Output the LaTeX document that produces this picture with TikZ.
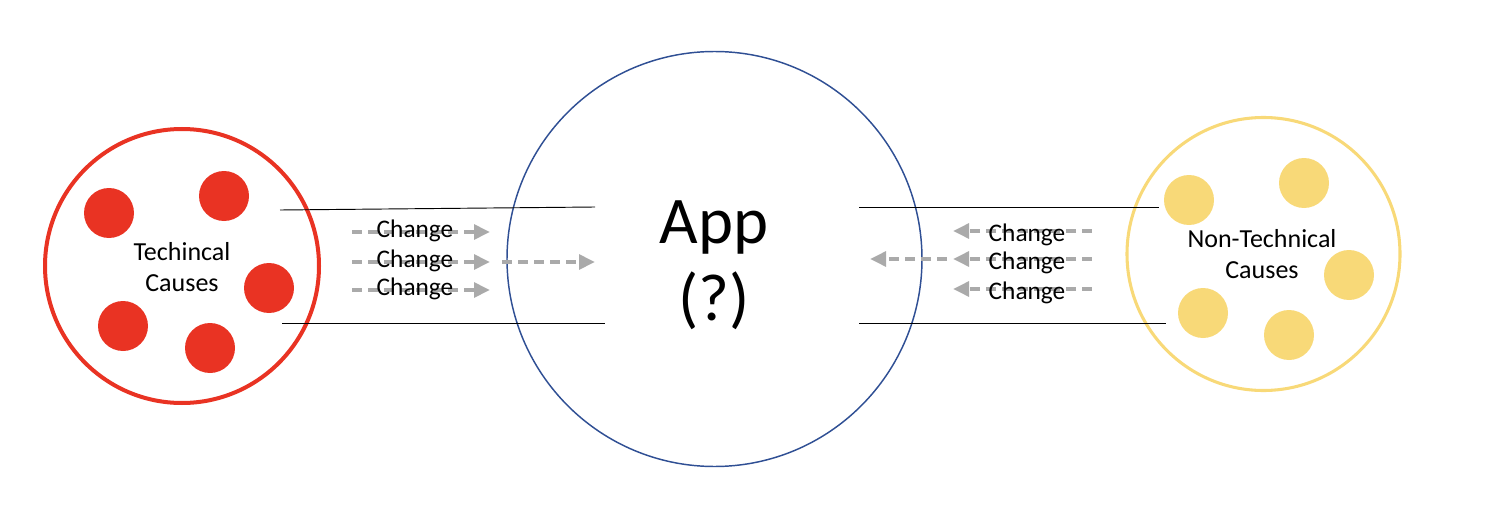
\documentclass[tikz,border=0pt]{standalone}
\usepackage{fontspec}
\setmainfont{Carlito}
\usetikzlibrary{arrows.meta}
\definecolor{cred}{HTML}{E93323}
\definecolor{cyel}{HTML}{F8D978}
\definecolor{cblue}{HTML}{2F4F94}
\definecolor{cgray}{HTML}{AAAAAA}
\begin{document}
\begin{tikzpicture}[x=0.75pt,y=-0.75pt,
  bigcirc/.style={circle,inner sep=0pt,minimum size={#1*1.5pt}},
  reddot/.style={circle,fill=cred,inner sep=0pt,minimum size=37.5pt},
  yeldot/.style={circle,fill=cyel,inner sep=0pt,minimum size=37.5pt},
  causetext/.style={font=\fontsize{19.5}{23}\selectfont,align=center,inner sep=0pt},
  chg/.style={font=\fontsize{19}{20}\selectfont,inner sep=0pt},
  flow/.style={draw=cgray,line width=2.7pt,dash pattern=on 7.5pt off 4.5pt,
    -{Triangle[length=12pt,width=11pt]}},
  bar/.style={draw=black,line width=0.7pt}]
\useasboundingbox (0,0) rectangle (1486,528);
% Technical causes
\node[bigcirc=137,draw=cred,line width=3pt] (tech) at (182,266) {};
\node[reddot] (t1) at (109,213) {};
\node[reddot] (t2) at (224,196) {};
\node[reddot] (t3) at (269,288) {};
\node[reddot] (t4) at (123,326) {};
\node[reddot] (t5) at (210,348) {};
\node[causetext] (techtxt) at (182,267) {Techincal\\Causes};
% App
\node[bigcirc=207.5,draw=cblue,line width=1.1pt] (app) at (714.5,259) {};
\node[font=\fontsize{50}{58}\selectfont,inner sep=0pt,align=center] (apptxt) at (714,265) {App\\(?)};
% Non-technical causes
\node[bigcirc=136.5,draw=cyel,line width=2.3pt] (nontech) at (1263.5,254) {};
\node[yeldot] (n1) at (1189,200) {};
\node[yeldot] (n2) at (1304,183) {};
\node[yeldot] (n3) at (1349,275) {};
\node[yeldot] (n4) at (1203,313) {};
\node[yeldot] (n5) at (1289,335) {};
\node[causetext] (nontxt) at (1262,254) {Non-Technical\\Causes};
% channel lines
\coordinate (lt1) at (280,210); \coordinate (lt2) at (595,207);
\coordinate (lb1) at (282,323); \coordinate (lb2) at (605,323);
\coordinate (rt1) at (859,207); \coordinate (rt2) at (1159,207);
\coordinate (rb1) at (859,323); \coordinate (rb2) at (1166,323);
\draw[bar] (lt1) -- (lt2);
\draw[bar] (lb1) -- (lb2);
\draw[bar] (rt1) -- (rt2);
\draw[bar] (rb1) -- (rb2);
% left arrows
\coordinate (la1s) at (352,232); \coordinate (la1e) at (490,232);
\coordinate (la2s) at (352,262); \coordinate (la2e) at (490,262);
\coordinate (la3s) at (352,290); \coordinate (la3e) at (490,290);
\coordinate (la4s) at (502,262); \coordinate (la4e) at (595,262);
\draw[flow] (la1s) -- (la1e);
\draw[flow] (la2s) -- (la2e);
\draw[flow] (la3s) -- (la3e);
\draw[flow] (la4s) -- (la4e);
\node[chg] (lc1) at (415,231) {Change};
\node[chg] (lc2) at (415,261) {Change};
\node[chg] (lc3) at (415,289) {Change};
% right arrows
\coordinate (ra1s) at (1092,231); \coordinate (ra1e) at (953,231);
\coordinate (ra2s) at (1092,259); \coordinate (ra2e) at (953,259);
\coordinate (ra3s) at (1092,289); \coordinate (ra3e) at (953,289);
\coordinate (ra4s) at (947,259); \coordinate (ra4e) at (870,259);
\draw[flow] (ra1s) -- (ra1e);
\draw[flow] (ra2s) -- (ra2e);
\draw[flow] (ra3s) -- (ra3e);
\draw[flow] (ra4s) -- (ra4e);
\node[chg] (rc1) at (1027,235) {Change};
\node[chg] (rc2) at (1027,263) {Change};
\node[chg] (rc3) at (1027,293) {Change};
\end{tikzpicture}
\end{document}
